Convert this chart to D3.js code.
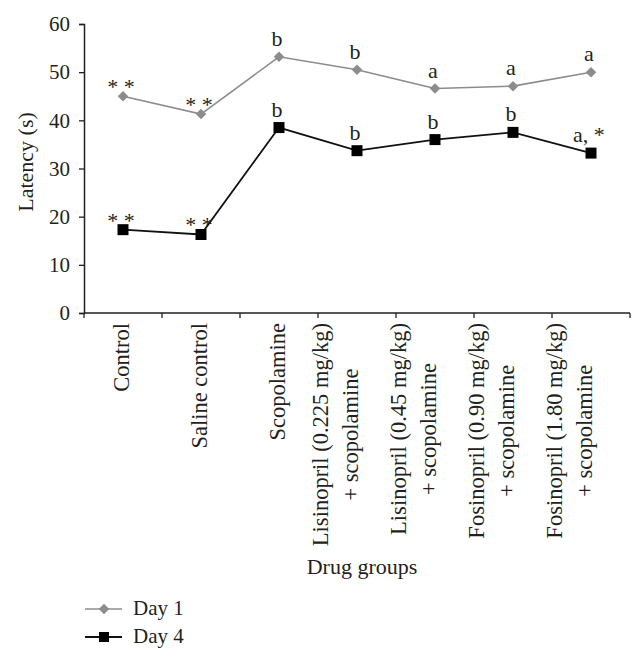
<!DOCTYPE html>
<html><head><meta charset="utf-8">
<script src="https://cdn.jsdelivr.net/npm/d3@7"></script>
<style>body{margin:0;background:#fff}svg{display:block}text{font-family:"Liberation Serif","Times New Roman",serif;fill:#231f20}</style>
</head><body>
<svg id="c" width="644" height="661"></svg>
<script>
const categories = [
  ["Control"],
  ["Saline control"],
  ["Scopolamine"],
  ["Lisinopril (0.225 mg/kg)", "+ scopolamine"],
  ["Lisinopril (0.45 mg/kg)", "+ scopolamine"],
  ["Fosinopril (0.90 mg/kg)", "+ scopolamine"],
  ["Fosinopril (1.80 mg/kg)", "+ scopolamine"]
];
const day1 = [45.0, 41.3, 53.2, 50.5, 46.6, 47.1, 50.0];
const day4 = [17.3, 16.3, 38.5, 33.7, 36.0, 37.5, 33.2];
const day1Notes = ["* *", "* *", "b", "b", "a", "a", "a"];
const day4Notes = ["* *", "* *", "b", "b", "b", "b", "a, *"];
const yTicks = [0, 10, 20, 30, 40, 50, 60];
const seriesNames = ["Day 1", "Day 4"];

const svg = d3.select("#c");
const x = d3.scaleBand().domain(d3.range(categories.length)).range([84, 630]);
const y = d3.scaleLinear().domain([0, 60]).range([313, 24]);
const cx = i => x(i) + x.bandwidth() / 2;

// Y axis
const ya = svg.append("g").attr("transform", "translate(84,0)")
  .call(d3.axisLeft(y).tickValues(yTicks).tickSize(5).tickPadding(9).tickFormat(d3.format("d")));
ya.selectAll("text").style("font-size", "21px").attr("fill", "#231f20");
ya.select(".domain").attr("stroke", "#231f20").attr("stroke-width", 1.5);
ya.selectAll(".tick line").attr("stroke", "#231f20").attr("stroke-width", 1.3);

// X axis (ticks at band boundaries)
const xa = svg.append("g").attr("transform", "translate(0,313)");
xa.append("line").attr("x1", 84).attr("x2", 630).attr("stroke", "#231f20").attr("stroke-width", 1.5);
const bounds = d3.range(categories.length + 1).map(i => i < categories.length ? x(i) : x(categories.length - 1) + x.bandwidth());
xa.selectAll("line.tk").data(bounds).join("line").attr("class", "tk")
  .attr("x1", d => d).attr("x2", d => d).attr("y1", 0).attr("y2", 5)
  .attr("stroke", "#231f20").attr("stroke-width", 1.3);

// category labels
const top0 = 323, fs = 22.5;
categories.forEach((lines, i) => {
  const g = svg.append("g");
  const offs = lines.length === 1 ? [6] : [-29, 1];
  const ts = lines.map((t, k) => g.append("text").text(t).style("font-size", fs + "px")
    .attr("text-anchor", "middle"));
  const maxW = d3.max(ts, t => t.node().getComputedTextLength());
  const cy = top0 + maxW / 2;
  ts.forEach((t, k) => {
    t.attr("transform", `translate(${cx(i) + offs[k]},${cy}) rotate(-90)`);
  });
});

// axis titles
svg.append("text").text("Latency (s)").style("font-size", "22px").attr("text-anchor", "middle")
  .attr("transform", "translate(33,162) rotate(-90)");
svg.append("text").text("Drug groups").style("font-size", "22px").attr("text-anchor", "middle")
  .attr("x", 362).attr("y", 574);

// lines
const line = d3.line().x((d, i) => cx(i)).y(d => y(d));
svg.append("path").datum(day1).attr("d", line).attr("fill", "none").attr("stroke", "#8c8c8c").attr("stroke-width", 1.6);
svg.append("path").datum(day4).attr("d", line).attr("fill", "none").attr("stroke", "#111").attr("stroke-width", 1.8);

const diamond = d3.symbol().type(d3.symbolSquare).size(55);
svg.selectAll("path.d1").data(day1).join("path").attr("class", "d1")
  .attr("d", diamond).attr("fill", "#8c8c8c")
  .attr("transform", (d, i) => `translate(${cx(i)},${y(d)}) rotate(45)`);
svg.selectAll("path.d4").data(day4).join("path").attr("class", "d4")
  .attr("d", d3.symbol().type(d3.symbolSquare).size(121)).attr("fill", "#000")
  .attr("transform", (d, i) => `translate(${cx(i)},${y(d)})`);

// annotations
function notes(vals, labs) {
  svg.append("g").selectAll("text").data(vals).join("text")
    .text((d, i) => labs[i]).style("font-size", "22px").attr("text-anchor", "middle")
    .attr("x", (d, i) => cx(i) - 2)
    .attr("y", (d, i) => y(d) - (labs[i] === "* *" ? 2 : 11));
}
notes(day1, day1Notes);
notes(day4, day4Notes);

// legend
const lg = svg.append("g");
seriesNames.forEach((n, k) => {
  const ly = 609 + k * 28;
  const col = k === 0 ? "#8c8c8c" : "#111";
  lg.append("line").attr("x1", 85).attr("x2", 122).attr("y1", ly).attr("y2", ly).attr("stroke", col).attr("stroke-width", k === 0 ? 1.6 : 1.8);
  if (k === 0) lg.append("path").attr("d", diamond).attr("fill", "#8c8c8c").attr("transform", `translate(104,${ly}) rotate(45)`);
  else lg.append("path").attr("d", d3.symbol().type(d3.symbolSquare).size(100)).attr("fill", "#000").attr("transform", `translate(104,${ly})`);
  lg.append("text").text(n).style("font-size", "21px").attr("x", 133).attr("y", ly + 6);
});
</script>
</body></html>
